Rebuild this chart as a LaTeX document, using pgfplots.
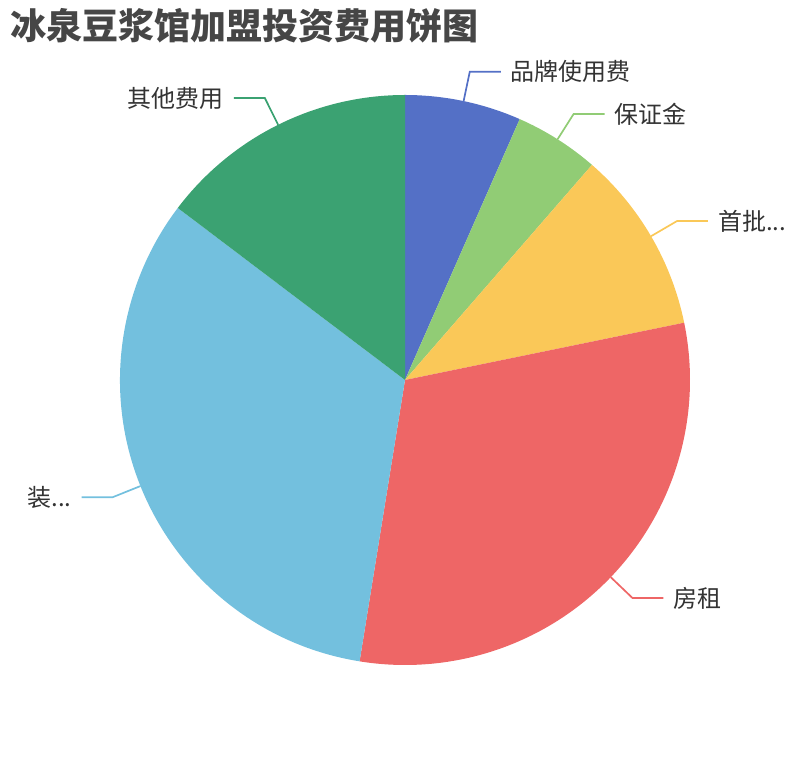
\documentclass[border=0pt]{standalone}
\usepackage{fontspec}
\setmainfont{Noto Sans CJK SC}
\newfontfamily\cjk{Noto Sans CJK SC}
\usepackage{pgfplots}
\usepackage{pgfplotstable}
\pgfplotsset{compat=1.18}

\definecolor{pc0}{HTML}{5470C6}
\definecolor{pc1}{HTML}{91CC75}
\definecolor{pc2}{HTML}{FAC858}
\definecolor{pc3}{HTML}{EE6666}
\definecolor{pc4}{HTML}{73C0DE}
\definecolor{pc5}{HTML}{3BA272}
\definecolor{titlegray}{HTML}{464646}
\definecolor{labelgray}{HTML}{333333}

% slice values (percent of the investment)
\pgfplotstableread[col sep=comma]{
name,value
品牌使用费,6.6
保证金,4.8
首批...,10.4
房租,30.8
装...,32.8
其他费用,14.7
}\piedata

\begin{document}
\begin{tikzpicture}
% total and angles, clockwise from the top
\def\total{0}
\pgfplotsforeachungrouped \i in {0,...,5}{%
  \pgfplotstablegetelem{\i}{value}\of\piedata
  \pgfmathsetmacro\total{\total+\pgfplotsretval}%
}
\def\cum{0}
\pgfplotsforeachungrouped \i in {0,...,5}{%
  \pgfplotstablegetelem{\i}{value}\of\piedata
  \pgfmathsetmacro\sa{90-360*(\cum/\total)}%
  \pgfmathsetmacro\cum{\cum+\pgfplotsretval}%
  \pgfmathsetmacro\ea{90-360*(\cum/\total)}%
  \pgfmathsetmacro\ma{(\sa+\ea)/2}%
  \pgfmathsetmacro\sx{285*cos(\sa)}%
  \pgfmathsetmacro\sy{285*sin(\sa)}%
  \pgfmathsetmacro\ax{285*cos(\ma)}%
  \pgfmathsetmacro\ay{285*sin(\ma)}%
  \pgfmathsetmacro\bx{315*cos(\ma)}%
  \pgfmathsetmacro\by{315*sin(\ma)}%
  \pgfmathsetmacro\sgn{cos(\ma)>0 ? 1 : -1}%
  \pgfmathsetmacro\cx{\bx+31*\sgn}%
  \pgfmathsetmacro\tx{\cx+10*\sgn}%
  \expandafter\xdef\csname sa\i\endcsname{\sa}%
  \expandafter\xdef\csname ea\i\endcsname{\ea}%
  \expandafter\xdef\csname sx\i\endcsname{\sx}%
  \expandafter\xdef\csname sy\i\endcsname{\sy}%
  \expandafter\xdef\csname ax\i\endcsname{\ax}%
  \expandafter\xdef\csname ay\i\endcsname{\ay}%
  \expandafter\xdef\csname bx\i\endcsname{\bx}%
  \expandafter\xdef\csname by\i\endcsname{\by}%
  \expandafter\xdef\csname cx\i\endcsname{\cx}%
  \expandafter\xdef\csname tx\i\endcsname{\tx}%
  \ifdim\sgn pt>0pt
    \expandafter\xdef\csname an\i\endcsname{west}%
  \else
    \expandafter\xdef\csname an\i\endcsname{east}%
  \fi
  \pgfplotstablegetelem{\i}{name}\of\piedata
  \expandafter\xdef\csname nm\i\endcsname{\pgfplotsretval}%
}
\begin{axis}[
    scale only axis,
    width=810pt,
    height=760pt,
    xmin=-405, xmax=405,
    ymin=-380, ymax=380,
    hide axis,
    clip=false
]
    \path (axis cs:-405,-380) rectangle (axis cs:405,380);
    \pgfplotsinvokeforeach{0,...,5}{
        \fill[pc#1] (axis cs:0,0)
            -- (axis cs:\csname sx#1\endcsname,\csname sy#1\endcsname)
            arc[start angle=\csname sa#1\endcsname,
                end angle=\csname ea#1\endcsname, radius=285pt]
            -- cycle;
        \draw[pc#1, line width=1.7pt]
            (axis cs:\csname ax#1\endcsname,\csname ay#1\endcsname)
            -- (axis cs:\csname bx#1\endcsname,\csname by#1\endcsname)
            -- (axis cs:\csname cx#1\endcsname,\csname by#1\endcsname);
        \node[anchor=\csname an#1\endcsname, inner sep=0pt, text=labelgray,
              font=\cjk\fontsize{24}{28}\selectfont]
            at (axis cs:\csname tx#1\endcsname,\csname by#1\endcsname)
            {\csname nm#1\endcsname};
    }
    \node[anchor=west, inner sep=0pt, text=titlegray,
          font=\cjk\bfseries\fontsize{36}{40}\selectfont]
        at (axis cs:-395,354) {冰泉豆浆馆加盟投资费用饼图};
\end{axis}
\end{tikzpicture}
\end{document}
